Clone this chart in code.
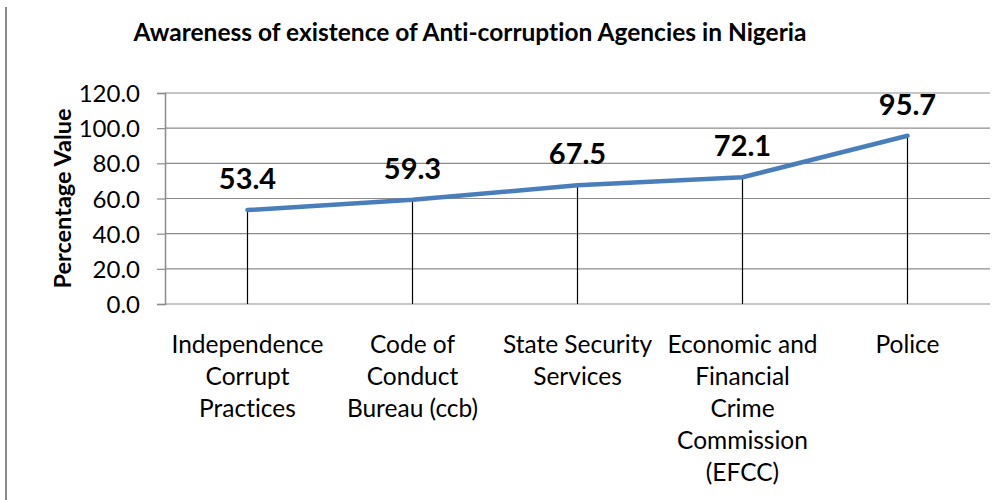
<!DOCTYPE html>
<html>
<head>
<meta charset="utf-8">
<script src="https://cdn.jsdelivr.net/npm/d3@7"></script>
<style>
  body { margin: 0; background: #fff; }
  svg { display: block; font-family: Lato, 'Open Sans', sans-serif; font-variant-ligatures: none; }
</style>
</head>
<body>
<div class="chart"></div>
<script>
const title = 'Awareness of existence of Anti-corruption Agencies in Nigeria';
const yTitle = 'Percentage Value';

const categories = [
  'Independence\nCorrupt\nPractices',
  'Code of\nConduct\nBureau (ccb)',
  'State Security\nServices',
  'Economic and\nFinancial\nCrime\nCommission\n(EFCC)',
  'Police'
];
const values = [53.4, 59.3, 67.5, 72.1, 95.7];
const yTicks = [0, 20, 40, 60, 80, 100, 120];

const width = 1008;
const height = 500;

const margin = { top: 93, right: 18, bottom: 196, left: 165 };
const chart_width = width - margin.left - margin.right;
const chart_height = height - margin.top - margin.bottom;

const svg = d3
  .select('.chart')
  .append('svg')
  .attr('width', width)
  .attr('height', height);

// frame edge on the left
svg
  .append('line')
  .attr('x1', 6)
  .attr('x2', 6)
  .attr('y1', 7)
  .attr('y2', height)
  .attr('stroke', '#8a8a8a')
  .attr('stroke-width', 2);

svg
  .append('text')
  .attr('x', 470)
  .attr('y', 41)
  .attr('text-anchor', 'middle')
  .attr('font-weight', 'bold')
  .attr('font-size', 24.5)
  .text(title);

const g = svg
  .append('g')
  .attr('transform', 'translate(' + margin.left + ',' + margin.top + ')');

const x = d3
  .scaleBand()
  .domain(categories)
  .range([0, chart_width]);

const y = d3
  .scaleLinear()
  .domain([0, 120])
  .range([chart_height, 0]);

const cx = d => x(d) + x.bandwidth() / 2;

// grid lines
g.append('g')
  .selectAll('line')
  .data(yTicks)
  .enter()
  .append('line')
  .attr('x1', 0)
  .attr('x2', chart_width)
  .attr('y1', d => y(d))
  .attr('y2', d => y(d))
  .attr('stroke', '#8c8c8c')
  .attr('stroke-width', 1.2);

const yAxis = d3
  .axisLeft(y)
  .tickValues(yTicks)
  .tickFormat(d3.format('.1f'))
  .tickSize(8)
  .tickPadding(17);

const ya = g.append('g').attr('class', 'axis axis--y').call(yAxis);
ya.select('.domain').attr('stroke', '#8c8c8c').attr('stroke-width', 1.5);
ya.selectAll('.tick line').attr('stroke', '#8c8c8c').attr('stroke-width', 1.2);
ya.selectAll('.tick text')
  .attr('font-family', 'Lato, sans-serif')
  .attr('font-size', 24)
  .attr('fill', '#000')
  .attr('dy', '0.36em');

svg
  .append('text')
  .attr('transform', 'translate(71,' + (margin.top + chart_height / 2) + ') rotate(-90)')
  .attr('text-anchor', 'middle')
  .attr('font-weight', 'bold')
  .attr('font-size', 23.5)
  .text(yTitle);

// drop lines
g.append('g')
  .selectAll('line')
  .data(categories)
  .enter()
  .append('line')
  .attr('x1', d => cx(d))
  .attr('x2', d => cx(d))
  .attr('y1', (d, i) => y(values[i]))
  .attr('y2', chart_height)
  .attr('stroke', '#000')
  .attr('stroke-width', 1.2);

const line = d3
  .line()
  .x(d => cx(d.c))
  .y(d => y(d.v));

const pts = categories.map((c, i) => ({ c: c, v: values[i] }));

g.append('path')
  .datum(pts)
  .attr('d', line)
  .attr('fill', 'none')
  .attr('stroke', '#4a7ebb')
  .attr('stroke-width', 4.5)
  .attr('stroke-linejoin', 'round')
  .attr('stroke-linecap', 'round');

// data labels
g.append('g')
  .selectAll('text')
  .data(pts)
  .enter()
  .append('text')
  .attr('x', d => cx(d.c))
  .attr('y', d => y(d.v) - 21)
  .attr('text-anchor', 'middle')
  .attr('font-weight', 'bold')
  .attr('font-size', 29)
  .text(d => d.v.toFixed(1));

// category labels
const xl = g
  .append('g')
  .selectAll('text')
  .data(categories)
  .enter()
  .append('text')
  .attr('x', d => cx(d))
  .attr('y', chart_height + 49)
  .attr('text-anchor', 'middle')
  .attr('font-size', 24.5);

xl.selectAll('tspan')
  .data(d => d.split('\n').map(s => ({ s: s, c: d })))
  .enter()
  .append('tspan')
  .attr('x', d => cx(d.c))
  .attr('dy', (d, i) => (i === 0 ? 0 : 32))
  .text(d => d.s);
</script>
</body>
</html>
